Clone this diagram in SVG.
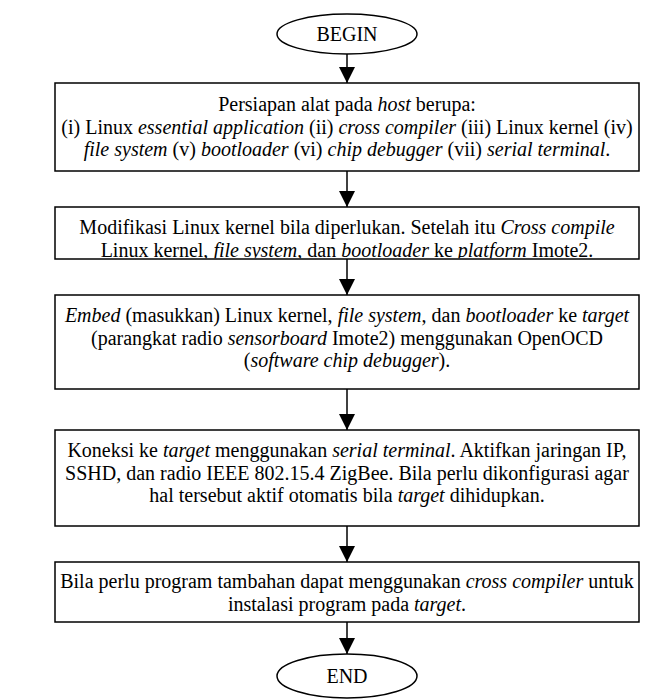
<svg xmlns="http://www.w3.org/2000/svg" width="669" height="700" viewBox="0 0 669 700">
<style>
.box{fill:#fff;stroke:#000;stroke-width:1.5}
.term{fill:#fff;stroke:#000;stroke-width:1.5}
text{font-family:"Liberation Serif","Times New Roman",serif;font-size:20px;fill:#000;text-anchor:middle}
.i{font-style:italic}
.edge{stroke:#000;stroke-width:1.5;fill:none;marker-end:url(#arr)}
</style>
<defs>
<marker id="arr" markerUnits="userSpaceOnUse" markerWidth="16" markerHeight="16" viewBox="0 0 16 16" refX="16" refY="8" orient="auto">
<path d="M0,0 L16,8 L0,16 Z" fill="#000"/>
</marker>
<clipPath id="clip2"><rect x="55" y="207" width="584" height="51.2"/></clipPath>
</defs>
<rect width="669" height="700" fill="#fff"/>
<g id="connectors">
<line class="edge" x1="347" y1="54" x2="347" y2="83"/>
<line class="edge" x1="347" y1="171" x2="347" y2="207"/>
<line class="edge" x1="347" y1="259" x2="347" y2="295"/>
<line class="edge" x1="347" y1="389" x2="347" y2="430"/>
<line class="edge" x1="347" y1="526" x2="347" y2="562"/>
<line class="edge" x1="347" y1="622" x2="347" y2="654"/>
</g>
<g id="begin">
<ellipse class="term" cx="347" cy="34" rx="70" ry="20"/>
<text x="347" y="41">BEGIN</text>
</g>
<g id="step1">
<rect class="box" x="55" y="83" width="584" height="88"/>
<text x="347" y="111">Persiapan alat pada <tspan class="i">host</tspan> berupa:</text>
<text x="347" y="133.5">(i) Linux <tspan class="i">essential application</tspan> (ii) <tspan class="i">cross compiler</tspan> (iii) Linux kernel (iv)</text>
<text x="347" y="156"><tspan class="i">file system</tspan> (v) <tspan class="i">bootloader</tspan> (vi) <tspan class="i">chip debugger</tspan> (vii) <tspan class="i">serial terminal</tspan>.</text>
</g>
<g id="step2">
<rect class="box" x="55" y="207" width="584" height="52"/>
<g clip-path="url(#clip2)">
<text x="347" y="234">Modifikasi Linux kernel bila diperlukan. Setelah itu <tspan class="i">Cross compile</tspan></text>
<text x="347" y="256.5">Linux kernel, <tspan class="i">file system</tspan>, dan <tspan class="i">bootloader</tspan> ke <tspan class="i">platform</tspan> Imote2.</text>
</g>
</g>
<g id="step3">
<rect class="box" x="55" y="295" width="584" height="94"/>
<text x="347" y="322">
<tspan class="i">Embed</tspan> (masukkan) Linux kernel, <tspan class="i">file system</tspan>, dan <tspan class="i">bootloader</tspan> ke <tspan class="i">target</tspan></text>
<text x="347" y="344.5">(parangkat radio <tspan class="i">sensorboard</tspan> Imote2) menggunakan OpenOCD</text>
<text x="347" y="367">(<tspan class="i">software chip debugger</tspan>).</text>
</g>
<g id="step4">
<rect class="box" x="55" y="430" width="584" height="96"/>
<text x="347" y="457">Koneksi ke <tspan class="i">target</tspan> menggunakan <tspan class="i">serial terminal</tspan>. Aktifkan jaringan IP,</text>
<text x="347" y="479.5">SSHD, dan radio IEEE 802.15.4 ZigBee. Bila perlu dikonfigurasi agar</text>
<text x="347" y="502">hal tersebut aktif otomatis bila <tspan class="i">target</tspan> dihidupkan.</text>
</g>
<g id="step5">
<rect class="box" x="55" y="562" width="584" height="60"/>
<text x="347" y="588">Bila perlu program tambahan dapat menggunakan <tspan class="i">cross compiler</tspan> untuk</text>
<text x="347" y="610.5">instalasi program pada <tspan class="i">target</tspan>.</text>
</g>
<g id="end">
<ellipse class="term" cx="347" cy="676" rx="70" ry="22"/>
<text x="347" y="683">END</text>
</g>
</svg>
